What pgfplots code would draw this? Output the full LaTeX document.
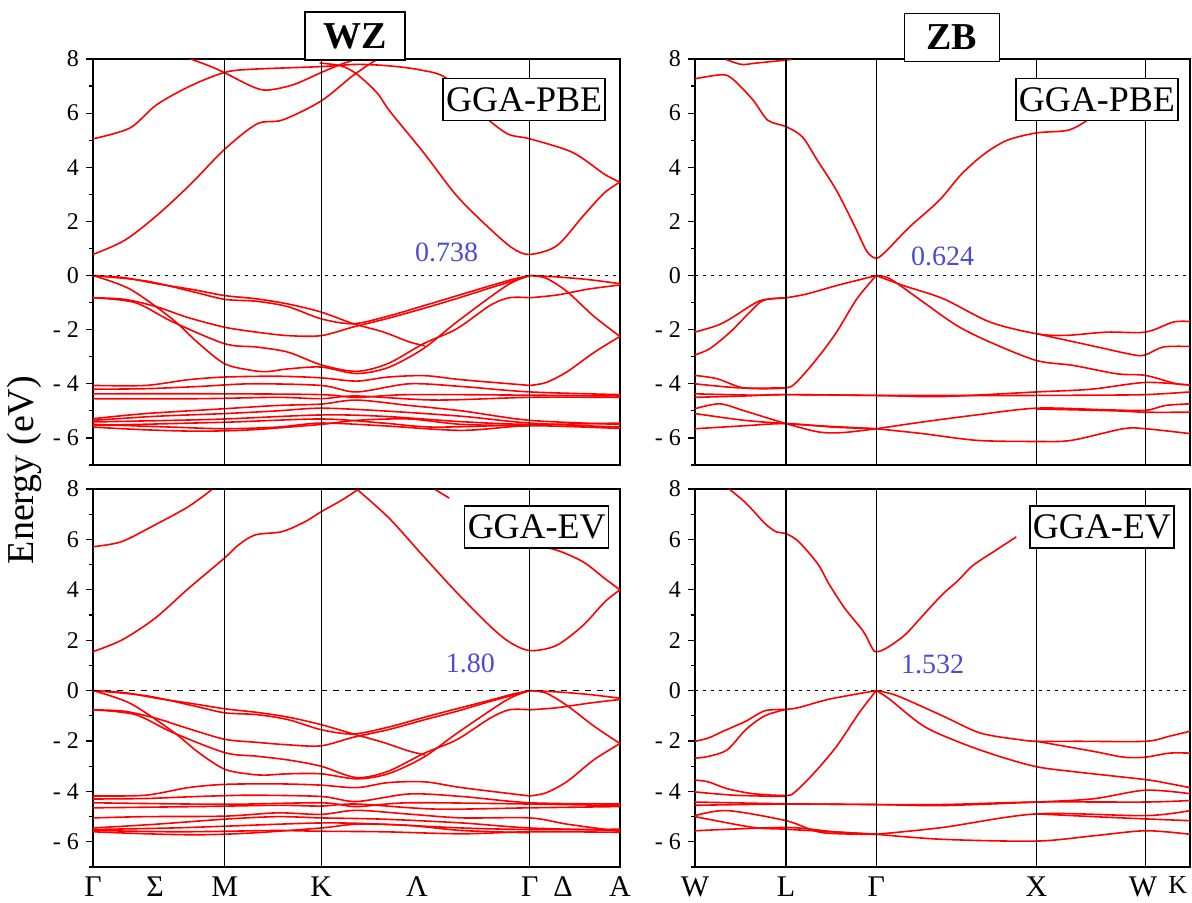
\documentclass[border=0pt]{standalone}
\usepackage{fontspec}
\setmainfont{Liberation Serif}
\usepackage{pgfplots}
\pgfplotsset{compat=1.18}
\definecolor{gapblue}{RGB}{75,75,215}

\pgfplotsset{
  band/.style={red, line width=0.8pt, smooth, tension=0.5},
  vline/.style={black, line width=0.6pt},
  panel/.style={
    anchor=north west, scale only axis,
    xmin=0, xmax=1, ymin=-7, ymax=8,
    ytick={-6,-4,...,8}, yticklabels={- 6,- 4,- 2,0,2,4,6,8},
    minor ytick={-7,-5,...,7},
    ytick pos=left, tick align=outside,
    major tick length=3.5pt, minor tick length=2pt,
    tick style={black, line width=0.6pt},
    xtick=\empty,
    axis line style={line width=0.8pt},
    clip mode=individual,
    yticklabel style={font=\fontsize{12}{12}\selectfont},
    xticklabel style={font=\fontsize{15}{15}\selectfont, inner sep=1pt},
  },
  wz/.style={width=263.5pt, xtick={0,0.118,0.25,0.433,0.615,0.829,0.892,1},
    xticklabels={Γ,Σ,M,K,Λ,Γ,Δ,A}, xtick style={draw=none}},
  zb/.style={width=247.5pt, xtick={0,0.184,0.366,0.69,0.905,0.975},
    xticklabels={W,L,Γ,X,W,{\fontsize{13}{13}\selectfont K}}, xtick style={draw=none}},
}
\tikzset{
  gga/.style={draw, fill=white, line width=0.7pt, inner sep=1.5pt,
    minimum height=21pt, font=\fontsize{18}{18}\selectfont},
  gap/.style={text=gapblue, font=\fontsize{14}{14}\selectfont},
  ttl/.style={draw, fill=white, line width=0.8pt, minimum height=24pt,
    font=\fontsize{19}{19}\selectfont\bfseries},
}

\begin{document}
\begin{tikzpicture}
\useasboundingbox (0,0) rectangle (596pt,-451pt);

% ---------------- WZ, GGA-PBE ----------------
\begin{axis}[panel, wz, xticklabels={}, at={(46.5pt,-29.5pt)}, height=203pt]
\addplot[band] coordinates {(0,0.78) (0.06,1.3) (0.12,2.2) (0.184,3.35) (0.249,4.65) (0.311,5.6) (0.36,5.75) (0.433,6.45) (0.494,7.4) (0.54,8.0)};
\addplot[band] coordinates {(0.43,7.85) (0.47,7.75) (0.5,7.45) (0.539,6.75) (0.564,6.05) (0.627,4.55) (0.69,2.95) (0.753,1.73) (0.797,1.0) (0.829,0.78) (0.88,1.1) (0.93,2.2) (0.97,3.05) (1,3.45)};
\addplot[band] coordinates {(0,5.05) (0.07,5.45) (0.12,6.3) (0.184,7.0) (0.249,7.5) (0.3,7.62) (0.433,7.72) (0.5,7.8) (0.56,7.75) (0.62,7.6) (0.67,7.3) (0.73,6.1) (0.785,5.25) (0.829,5.05) (0.91,4.55) (0.97,3.75) (1,3.45)};
\addplot[band] coordinates {(0.185,8.0) (0.22,7.75) (0.249,7.5) (0.3,7.0) (0.33,6.85) (0.38,7.05) (0.433,7.5) (0.47,7.8) (0.5,8.0)};
\addplot[band] coordinates {(0,0) (0.06,-0.08) (0.12,-0.3) (0.19,-0.52) (0.25,-0.74) (0.31,-0.86) (0.37,-1.05) (0.433,-1.35) (0.494,-1.78) (0.55,-2.08) (0.6,-2.45) (0.63,-2.6)};
\addplot[band] coordinates {(0,0) (0.1,-0.2) (0.19,-0.6) (0.25,-0.88) (0.31,-0.95) (0.37,-1.15) (0.433,-1.6) (0.494,-1.78) (0.56,-1.5) (0.63,-1.1) (0.69,-0.75) (0.75,-0.4) (0.8,-0.12) (0.829,0)};
\addplot[band] coordinates {(0,-0.82) (0.06,-0.88) (0.12,-1.15) (0.18,-1.55) (0.25,-1.91) (0.31,-2.09) (0.37,-2.22) (0.433,-2.22) (0.494,-1.9) (0.56,-1.58) (0.63,-1.2) (0.69,-0.85) (0.75,-0.48) (0.8,-0.18) (0.829,0)};
\addplot[band] coordinates {(0,-0.82) (0.08,-1.0) (0.15,-1.7) (0.25,-2.52) (0.31,-2.64) (0.37,-2.83) (0.433,-3.3) (0.5,-3.54) (0.56,-3.25) (0.627,-2.52) (0.69,-1.97) (0.753,-1.11) (0.79,-0.82) (0.829,-0.82)};
\addplot[band] coordinates {(0,0) (0.07,-0.5) (0.15,-1.6) (0.2,-2.5) (0.25,-3.26) (0.3,-3.5) (0.33,-3.55) (0.37,-3.45) (0.433,-3.38) (0.5,-3.62) (0.56,-3.4) (0.627,-2.7) (0.69,-1.72) (0.785,-0.37) (0.829,0)};
\addplot[band] coordinates {(0.829,0) (0.88,-0.05) (0.94,-0.15) (1,-0.3)};
\addplot[band] coordinates {(0.829,-0.82) (0.88,-0.72) (0.94,-0.5) (1,-0.35)};
\addplot[band] coordinates {(0.829,0) (0.86,-0.1) (0.9,-0.6) (0.95,-1.5) (1,-2.25)};
\addplot[band] coordinates {(0.829,-4.06) (0.86,-3.95) (0.9,-3.55) (0.95,-2.85) (1,-2.25)};
\addplot[band] coordinates {(0,-4.06) (0.1,-4.06) (0.18,-3.85) (0.25,-3.75) (0.35,-3.72) (0.433,-3.78) (0.5,-3.9) (0.56,-3.75) (0.63,-3.7) (0.7,-3.85) (0.829,-4.06)};
\addplot[band] coordinates {(0,-4.2) (0.1,-4.18) (0.2,-4.1) (0.3,-4.0) (0.433,-4.06) (0.5,-4.3) (0.6,-4.0) (0.7,-4.1) (0.829,-4.3) (1,-4.4)};
\addplot[band] coordinates {(0,-4.37) (0.25,-4.37) (0.433,-4.4) (0.5,-4.5) (0.6,-4.4) (0.829,-4.42) (1,-4.45)};
\addplot[band] coordinates {(0,-4.55) (0.2,-4.55) (0.35,-4.5) (0.433,-4.55) (0.5,-4.45) (0.65,-4.6) (0.829,-4.5) (1,-4.5)};
\addplot[band] coordinates {(0,-5.29) (0.1,-5.1) (0.25,-4.92) (0.35,-4.8) (0.433,-4.75) (0.5,-4.6) (0.6,-4.8) (0.7,-5.0) (0.829,-5.35) (1,-5.5)};
\addplot[band] coordinates {(0,-5.35) (0.12,-5.2) (0.25,-5.1) (0.35,-5.0) (0.433,-4.9) (0.55,-5.0) (0.7,-5.2) (0.829,-5.45) (1,-5.6)};
\addplot[band] coordinates {(0,-5.41) (0.15,-5.35) (0.25,-5.3) (0.433,-5.15) (0.55,-5.2) (0.7,-5.4) (0.829,-5.5) (1,-5.45)};
\addplot[band] coordinates {(0,-5.5) (0.15,-5.6) (0.25,-5.66) (0.35,-5.6) (0.433,-5.45) (0.55,-5.55) (0.7,-5.72) (0.829,-5.55) (1,-5.65)};
\addplot[band] coordinates {(0,-5.54) (0.25,-5.42) (0.433,-5.3) (0.55,-5.45) (0.65,-5.6) (0.829,-5.5)};
\addplot[band] coordinates {(0,-5.6) (0.1,-5.7) (0.2,-5.75) (0.3,-5.7) (0.433,-5.5) (0.5,-5.35) (0.6,-5.3) (0.7,-5.5) (0.829,-5.55)};
\addplot[vline] coordinates {(0.25,-7) (0.25,8)};
\addplot[vline] coordinates {(0.433,-7) (0.433,8)};
\addplot[vline] coordinates {(0.829,-7) (0.829,8)};
\addplot[black, line width=0.8pt, dash pattern=on 1.5pt off 2.5pt] coordinates {(0,0) (1,0)};
\node[gga] at (axis cs:0.818,6.5) {GGA-PBE};
\node[gap] at (axis cs:0.671,0.85) {0.738};
\node[ttl, minimum width=50pt] at (axis cs:0.497,8.85) {WZ};
\end{axis}

% ---------------- ZB, GGA-PBE ----------------
\begin{axis}[panel, zb, xticklabels={}, at={(347.5pt,-29.5pt)}, height=203pt]
\addplot[band] coordinates {(0,7.27) (0.055,7.42) (0.078,7.23) (0.117,6.49) (0.147,5.74) (0.184,5.5) (0.217,5.12) (0.247,4.26) (0.286,3.14) (0.324,1.77) (0.347,0.9) (0.366,0.64) (0.386,0.9) (0.432,1.77) (0.493,2.77) (0.539,3.76) (0.585,4.5) (0.631,5.0) (0.69,5.27) (0.754,5.37) (0.793,5.74) (0.816,6.05) (0.84,6.5)};
\addplot[band] coordinates {(0.063,7.98) (0.094,7.8) (0.124,7.85) (0.194,7.98)};
\addplot[band] coordinates {(0,-2.09) (0.044,-1.85) (0.071,-1.6) (0.125,-0.98) (0.152,-0.86) (0.184,-0.82) (0.226,-0.68) (0.286,-0.37) (0.34,-0.12) (0.366,0)};
\addplot[band] coordinates {(0,-3.69) (0.044,-3.81) (0.09,-4.12) (0.125,-4.18) (0.184,-4.15) (0.205,-3.94) (0.246,-3.08) (0.286,-2.09) (0.327,-0.86) (0.366,0)};
\addplot[band] coordinates {(0,-2.93) (0.03,-2.7) (0.071,-2.09) (0.111,-1.35) (0.138,-0.92) (0.184,-0.82)};
\addplot[band] coordinates {(0.366,0) (0.421,-0.37) (0.502,-0.86) (0.596,-1.72) (0.69,-2.15) (0.75,-2.21) (0.832,-2.09) (0.91,-2.09) (0.966,-1.72) (1,-1.7)};
\addplot[band] coordinates {(0.366,0) (0.394,-0.12) (0.461,-0.98) (0.529,-1.85) (0.596,-2.46) (0.69,-3.14) (0.764,-3.32) (0.852,-3.63) (0.91,-3.69) (0.973,-4.0) (1,-4.03)};
\addplot[band] coordinates {(0.69,-2.15) (0.798,-2.58) (0.886,-2.93) (0.91,-2.93) (0.946,-2.64) (1,-2.62)};
\addplot[band] coordinates {(0,-4.0) (0.09,-4.15) (0.184,-4.15)};
\addplot[band] coordinates {(0,-4.37) (0.12,-4.42) (0.184,-4.4) (0.366,-4.43) (0.5,-4.47) (0.69,-4.3) (0.8,-4.2) (0.91,-3.95) (1,-4.05)};
\addplot[band] coordinates {(0,-4.5) (0.1,-4.45) (0.184,-4.4) (0.366,-4.43) (0.5,-4.43) (0.69,-4.43) (0.8,-4.42) (0.91,-4.4) (1,-4.3)};
\addplot[band] coordinates {(0,-4.92) (0.05,-4.74) (0.1,-5.0) (0.184,-5.47) (0.25,-5.78) (0.3,-5.8) (0.366,-5.66)};
\addplot[band] coordinates {(0,-5.1) (0.1,-5.35) (0.184,-5.47) (0.25,-5.55) (0.366,-5.66)};
\addplot[band] coordinates {(0,-5.66) (0.1,-5.55) (0.184,-5.47) (0.28,-5.6) (0.366,-5.66)};
\addplot[band] coordinates {(0.366,-5.66) (0.46,-5.84) (0.57,-6.09) (0.69,-6.13) (0.76,-6.09) (0.865,-5.66) (0.91,-5.66) (1,-5.84)};
\addplot[band] coordinates {(0.366,-5.66) (0.46,-5.41) (0.56,-5.17) (0.69,-4.9) (0.83,-4.96) (0.91,-4.98) (0.95,-4.8) (1,-4.74)};
\addplot[band] coordinates {(0.69,-4.93) (0.85,-5.0) (0.91,-5.05) (1,-5.05)};
\addplot[vline] coordinates {(0.184,-7) (0.184,8)};
\addplot[vline] coordinates {(0.366,-7) (0.366,8)};
\addplot[vline] coordinates {(0.69,-7) (0.69,8)};
\addplot[vline] coordinates {(0.91,-7) (0.91,8)};
\addplot[black, line width=0.8pt, dash pattern=on 1.5pt off 2.5pt] coordinates {(0,0) (1,0)};
\node[gga] at (axis cs:0.812,6.5) {GGA-PBE};
\node[gap] at (axis cs:0.5,0.7) {0.624};
\node[ttl, minimum width=47.5pt] at (axis cs:0.519,8.8) {ZB};
\end{axis}

% ---------------- WZ, GGA-EV ----------------
\begin{axis}[panel, wz, at={(46.5pt,-244.5pt)}, height=189pt]
\addplot[band] coordinates {(0,1.55) (0.054,2.0) (0.117,2.86) (0.181,4.05) (0.25,5.27) (0.276,5.78) (0.308,6.18) (0.359,6.31) (0.403,6.71) (0.433,7.1) (0.473,7.57) (0.502,7.97)};
\addplot[band] coordinates {(0.502,7.97) (0.562,6.84) (0.625,5.38) (0.689,3.92) (0.752,2.59) (0.79,1.93) (0.829,1.59) (0.879,1.79) (0.93,2.59) (0.971,3.52) (1,4.0)};
\addplot[band] coordinates {(0,5.71) (0.054,5.91) (0.117,6.57) (0.181,7.3) (0.225,7.97)};
\addplot[band] coordinates {(0.81,5.84) (0.829,5.78) (0.879,5.58) (0.93,5.11) (0.971,4.45) (1,4.0)};
\addplot[band] coordinates {(0.65,7.97) (0.676,7.64)};
\addplot[band] coordinates {(0,0) (0.06,-0.08) (0.12,-0.3) (0.19,-0.52) (0.25,-0.72) (0.31,-0.86) (0.37,-1.05) (0.433,-1.35) (0.494,-1.72) (0.55,-2.05) (0.6,-2.4) (0.63,-2.55)};
\addplot[band] coordinates {(0,0) (0.1,-0.2) (0.19,-0.6) (0.25,-0.88) (0.31,-0.95) (0.37,-1.15) (0.433,-1.55) (0.494,-1.72) (0.56,-1.45) (0.63,-1.05) (0.69,-0.72) (0.75,-0.4) (0.8,-0.12) (0.829,0)};
\addplot[band] coordinates {(0,-0.76) (0.06,-0.82) (0.12,-1.1) (0.18,-1.5) (0.25,-1.93) (0.31,-2.05) (0.37,-2.15) (0.433,-2.19) (0.494,-1.85) (0.56,-1.55) (0.63,-1.15) (0.69,-0.82) (0.75,-0.45) (0.8,-0.16) (0.829,0)};
\addplot[band] coordinates {(0,-0.76) (0.08,-0.95) (0.15,-1.65) (0.25,-2.46) (0.31,-2.6) (0.37,-2.75) (0.433,-3.0) (0.5,-3.45) (0.56,-3.2) (0.627,-2.5) (0.69,-1.95) (0.753,-1.1) (0.79,-0.76) (0.829,-0.76)};
\addplot[band] coordinates {(0,0) (0.07,-0.5) (0.15,-1.6) (0.2,-2.45) (0.25,-3.12) (0.3,-3.32) (0.33,-3.35) (0.37,-3.3) (0.433,-3.3) (0.5,-3.5) (0.56,-3.3) (0.627,-2.65) (0.69,-1.7) (0.785,-0.37) (0.829,0)};
\addplot[band] coordinates {(0.829,0) (0.88,-0.05) (0.94,-0.15) (1,-0.3)};
\addplot[band] coordinates {(0.829,-0.76) (0.88,-0.68) (0.94,-0.5) (1,-0.35)};
\addplot[band] coordinates {(0.829,0) (0.86,-0.1) (0.9,-0.6) (0.95,-1.4) (1,-2.1)};
\addplot[band] coordinates {(0.829,-4.18) (0.86,-4.05) (0.9,-3.6) (0.95,-2.75) (1,-2.1)};
\addplot[band] coordinates {(0,-4.18) (0.1,-4.15) (0.18,-3.85) (0.25,-3.72) (0.35,-3.7) (0.433,-3.75) (0.5,-3.85) (0.56,-3.65) (0.63,-3.62) (0.7,-3.85) (0.829,-4.18)};
\addplot[band] coordinates {(0,-4.3) (0.1,-4.28) (0.2,-4.2) (0.3,-4.15) (0.433,-4.2) (0.5,-4.4) (0.6,-4.1) (0.7,-4.2) (0.829,-4.45) (1,-4.5)};
\addplot[band] coordinates {(0,-4.45) (0.25,-4.51) (0.433,-4.45) (0.5,-4.6) (0.6,-4.45) (0.829,-4.5) (1,-4.56)};
\addplot[band] coordinates {(0,-4.65) (0.2,-4.6) (0.35,-4.55) (0.433,-4.58) (0.5,-4.5) (0.65,-4.7) (0.829,-4.65) (1,-4.6)};
\addplot[band] coordinates {(0,-5.05) (0.1,-5.0) (0.25,-4.98) (0.35,-4.85) (0.433,-4.91) (0.5,-4.75) (0.6,-4.9) (0.7,-5.05) (0.829,-5.05) (0.9,-5.3) (1,-5.58)};
\addplot[band] coordinates {(0,-5.45) (0.12,-5.3) (0.25,-5.1) (0.35,-5.0) (0.433,-5.05) (0.55,-5.1) (0.7,-5.25) (0.829,-5.45) (1,-5.55)};
\addplot[band] coordinates {(0,-5.51) (0.15,-5.45) (0.25,-5.38) (0.433,-5.25) (0.55,-5.3) (0.7,-5.45) (0.829,-5.51) (1,-5.5)};
\addplot[band] coordinates {(0,-5.55) (0.15,-5.6) (0.25,-5.58) (0.35,-5.55) (0.433,-5.58) (0.55,-5.6) (0.7,-5.68) (0.829,-5.6) (1,-5.62)};
\addplot[band] coordinates {(0,-5.6) (0.1,-5.68) (0.2,-5.72) (0.3,-5.65) (0.433,-5.45) (0.5,-5.3) (0.6,-5.35) (0.7,-5.55) (0.829,-5.64)};
\addplot[vline] coordinates {(0.25,-7) (0.25,8)};
\addplot[vline] coordinates {(0.433,-7) (0.433,8)};
\addplot[vline] coordinates {(0.829,-7) (0.829,8)};
\addplot[black, line width=0.8pt, dash pattern=on 3pt off 3pt] coordinates {(0,0) (1,0)};
\node[gga] at (axis cs:0.842,6.5) {GGA-EV};
\node[gap] at (axis cs:0.716,1.07) {1.80};
\end{axis}

% ---------------- ZB, GGA-EV ----------------
\begin{axis}[panel, zb, at={(347.5pt,-244.5pt)}, height=189pt]
\addplot[band] coordinates {(0.069,8.0) (0.103,7.44) (0.141,6.64) (0.164,6.3) (0.184,6.23) (0.21,5.9) (0.248,5.03) (0.271,4.22) (0.302,3.28) (0.34,2.35) (0.358,1.68) (0.366,1.54) (0.386,1.68) (0.424,2.21) (0.462,3.02) (0.5,3.82) (0.531,4.36) (0.561,4.96) (0.607,5.56) (0.649,6.1)};
\addplot[band] coordinates {(0,-2.01) (0.027,-1.88) (0.057,-1.61) (0.103,-1.21) (0.141,-0.8) (0.184,-0.74) (0.21,-0.67) (0.271,-0.34) (0.366,0)};
\addplot[band] coordinates {(0,-2.68) (0.027,-2.61) (0.065,-2.35) (0.103,-1.54) (0.141,-1.0) (0.184,-0.74)};
\addplot[band] coordinates {(0,-3.55) (0.027,-3.62) (0.065,-3.89) (0.118,-4.09) (0.184,-4.16) (0.202,-4.02) (0.24,-3.28) (0.286,-2.21) (0.332,-0.87) (0.366,0)};
\addplot[band] coordinates {(0.366,0) (0.408,-0.2) (0.5,-1.0) (0.576,-1.68) (0.653,-1.94) (0.69,-2.01) (0.775,-2.01) (0.91,-2.01) (0.958,-1.81) (1,-1.61)};
\addplot[band] coordinates {(0.366,0) (0.393,-0.34) (0.462,-1.41) (0.538,-2.08) (0.615,-2.61) (0.69,-3.02) (0.767,-3.22) (0.91,-3.53) (0.958,-3.69) (1,-3.85)};
\addplot[band] coordinates {(0.69,-2.01) (0.805,-2.41) (0.866,-2.64) (0.91,-2.64) (0.958,-2.48) (1,-2.48)};
\addplot[band] coordinates {(0,-4.02) (0.08,-4.15) (0.184,-4.2)};
\addplot[band] coordinates {(0,-4.42) (0.184,-4.49) (0.366,-4.52) (0.5,-4.56) (0.69,-4.42) (0.805,-4.29) (0.91,-3.95) (1,-4.09)};
\addplot[band] coordinates {(0,-4.55) (0.184,-4.5) (0.366,-4.52) (0.5,-4.52) (0.69,-4.42) (0.91,-4.42) (1,-4.36)};
\addplot[band] coordinates {(0,-4.96) (0.065,-4.76) (0.184,-5.16) (0.256,-5.63) (0.366,-5.7)};
\addplot[band] coordinates {(0,-5.0) (0.118,-5.43) (0.184,-5.5) (0.366,-5.7)};
\addplot[band] coordinates {(0,-5.56) (0.184,-5.43) (0.28,-5.6) (0.366,-5.7)};
\addplot[band] coordinates {(0.366,-5.7) (0.5,-5.9) (0.69,-5.97) (0.805,-5.76) (0.91,-5.56) (1,-5.7)};
\addplot[band] coordinates {(0.366,-5.7) (0.5,-5.43) (0.69,-4.89) (0.91,-4.96) (1,-4.76)};
\addplot[band] coordinates {(0.69,-4.89) (0.805,-5.0) (0.91,-5.09) (1,-5.16)};
\addplot[vline] coordinates {(0.184,-7) (0.184,8)};
\addplot[vline] coordinates {(0.366,-7) (0.366,8)};
\addplot[vline] coordinates {(0.69,-7) (0.69,8)};
\addplot[vline] coordinates {(0.91,-7) (0.91,8)};
\addplot[black, line width=0.8pt, dash pattern=on 1.5pt off 2.5pt] coordinates {(0,0) (1,0)};
\node[gga] at (axis cs:0.822,6.5) {GGA-EV};
\node[gap] at (axis cs:0.48,1.05) {1.532};
\end{axis}

\node[rotate=90, font=\fontsize{19}{19}\selectfont] at (12pt,-235pt) {Energy (eV)};
\end{tikzpicture}
\end{document}
